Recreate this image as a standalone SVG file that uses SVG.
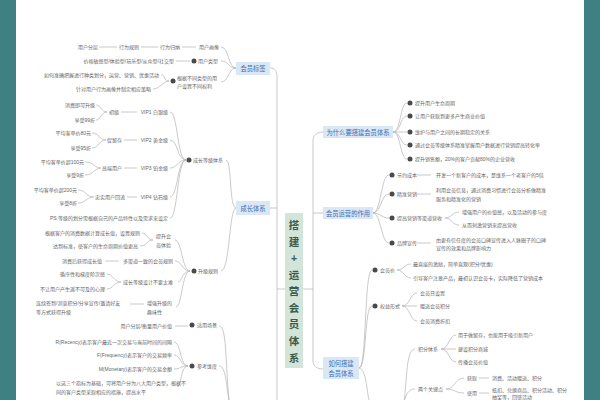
<svg xmlns="http://www.w3.org/2000/svg" width="600" height="400" viewBox="0 0 600 400">
<style>
text{font-family:"Liberation Sans","Noto Sans CJK SC",sans-serif;}
.t{font-size:5px;fill:#666;dominant-baseline:central;}
.e{text-anchor:end;}
.m{font-size:6.3px;fill:#3e6fb0;text-anchor:middle;dominant-baseline:central;}
.box{fill:#dae7f5;}
.ln{fill:none;stroke:#b3b3b3;stroke-width:0.7;}
.dot{fill:#4a4a4a;}
.c{font-size:10.5px;fill:#3d5a4b;text-anchor:middle;font-weight:bold;}
.side{fill:#3f8082;}
</style>
<rect width="600" height="400" fill="#fff"/>
<rect class="side" x="0" y="0" width="16" height="400"/>
<rect class="side" x="584" y="0" width="16" height="400"/>

<g id="connectors">
<path class="ln" d="M270,68 C275,68 277,71 277,77 L277,400"/>
<path class="ln" d="M270,208 L277,208"/>
<path class="ln" d="M277,289 L285,289"/>
<path class="ln" d="M323,132 C317,132 313,135 313,141 L313,361 C313,366 317,369 323,369"/>
<path class="ln" d="M313,213 L323,213"/>
<path class="ln" d="M303,289 L313,289"/>
<path class="ln" d="M236,68 C228,68 229,47 221,47"/>
<path class="ln" d="M236,68 C228,68 229,61 221,61"/>
<path class="ln" d="M236,68 C228,68 229,82 221,82"/>
<path class="ln" d="M99,47 L117,47 M141,47 L158,47 M182,47 L196,47"/>
<path class="ln" d="M176,61 L190,61"/>
<path class="ln" d="M169,81 C163,81 166,75 161,75 M169,81 C163,81 160,89 153,89"/>
<path class="ln" d="M236,208 C229,208 232,160 226,160"/>
<path class="ln" d="M236,208 C229,208 230,271 221,271"/>
<path class="ln" d="M186,160 C177,160 178,112 170,112 M186,160 C177,160 178,140 170,140 M186,160 C177,160 178,168 170,168 M186,160 C177,160 178,197 170,197 M186,160 C177,160 178,218 170,218"/>
<path class="ln" d="M121,112 L137,112 M124,140 L137,140 M124,168 L137,168 M127,197 L137,197"/>
<path class="ln" d="M107,112 C101,112 101,105 96,105 M107,112 C101,112 101,120 96,120"/>
<path class="ln" d="M106,140 C99,140 99,133 92,133 M106,140 C99,140 99,148 92,148"/>
<path class="ln" d="M101,168 C94,168 94,162 85,162 M101,168 C94,168 94,175 85,175"/>
<path class="ln" d="M94,197 C86,197 86,190 78,190 M94,197 C86,197 86,203 78,203"/>
<path class="ln" d="M190,271 C182,271 182,240 175,240 M190,271 C182,271 182,261 175,261 M190,271 C182,271 182,282 178,282 M190,271 C182,271 182,307 176,307"/>
<path class="ln" d="M153,240 C147,240 147,233 142,233 M153,240 C147,240 147,246 140,246"/>
<path class="ln" d="M105,261 L119,261"/>
<path class="ln" d="M121,282 C114,282 113,274 107,274 M121,282 C114,282 113,289 107,289"/>
<path class="ln" d="M130,304 L144,304"/>
<path class="ln" d="M175,326 L188,326"/>
<path class="ln" d="M188,366 C180,366 181,342 174,342 M188,366 C180,366 181,355 174,355 M188,366 C180,366 181,369 174,369 M188,366 C180,366 182,387 177,387"/>
<path class="ln" d="M219,326 C227,326 225,360 229,400 M219,366 C226,366 226,385 229,400"/>
<path class="ln" d="M393,132 C401,132 400,103 407,103 M393,132 C401,132 400,116 407,116 M393,132 L407,132 M393,132 C401,132 400,145 407,145 M393,132 C401,132 400,159 407,159"/>
<path class="ln" d="M373,213 C381,213 381,175 389,175 M373,213 C381,213 381,194 389,194 M373,213 C381,213 381,218 389,218 M373,213 C381,213 381,243 389,243"/>
<path class="ln" d="M417,175 L431,175 M417,194 L431,194 M417,243 L431,243"/>
<path class="ln" d="M445,218 C452,218 452,212 459,212 M445,218 C452,218 452,225 459,225"/>
<path class="ln" d="M359,368 C367,368 364,270 372,270 M359,368 C367,368 364,306 372,306 M359,368 C366,368 367,392 369,400"/>
<path class="ln" d="M397,270 C404,270 404,264 411,264 M397,270 C404,270 404,278 411,278"/>
<path class="ln" d="M402,306 C410,306 410,293 417,293 M402,306 L417,306 M402,306 C410,306 410,321 417,321"/>
<path class="ln" d="M404,402 C407,380 406,349 415,349 M404,402 C406,395 408,389 415,389"/>
<path class="ln" d="M441,349 C449,349 449,335 456,335 M441,349 L456,349 M441,349 C449,349 449,362 456,362"/>
<path class="ln" d="M446,389 C455,389 455,378 464,378 M446,389 C455,389 455,393 464,393"/>
<path class="ln" d="M479,378 L489,378 M479,393 L489,393"/>
</g>

<g id="center">
<rect x="285" y="213" width="18" height="155" fill="#d3e4d9"/>
<text class="c" x="294" y="229">搭</text>
<text class="c" x="294" y="245.6">建</text>
<text class="c" x="294" y="262">+</text>
<text class="c" x="294" y="278.6">运</text>
<text class="c" x="294" y="295.2">营</text>
<text class="c" x="294" y="311.8">会</text>
<text class="c" x="294" y="328.4">员</text>
<text class="c" x="294" y="345">体</text>
<text class="c" x="294" y="361.6">系</text>
</g>

<g id="n-huiyuanbiaoqian">
<rect class="box" x="236" y="62" width="34" height="13"/>
<text class="m" x="253" y="68.5">会员标签</text>
</g>
<g id="n-huaxiang">
<text class="t e" x="219" y="47">用户画像</text>
<text class="t e" x="180" y="47">行为归纳</text>
<text class="t e" x="139" y="47">行为规则</text>
<text class="t e" x="98" y="47">用户分层</text>
</g>
<g id="n-leixing">
<circle class="dot" cx="194" cy="61" r="2.5"/>
<text class="t" x="198" y="61">用户类型</text>
<text class="t e" x="174" y="61">价格敏感型/体验型/玩乐型/从众型/社交型</text>
</g>
<g id="n-genju">
<circle class="dot" cx="173" cy="81" r="2.5"/>
<text class="t" x="177" y="77.5">根据不同类型的用</text>
<text class="t" x="177" y="85.5">户设置不同权利</text>
<text class="t e" x="159" y="75">如何准确把握进行种类划分，运营、营销、优惠活动</text>
<text class="t e" x="151" y="89">针对用户行为画像并制定相应策略</text>
</g>

<g id="n-chengzhangtixi">
<rect class="box" x="236" y="201" width="34" height="14"/>
<text class="m" x="253" y="208">成长体系</text>
</g>
<g id="n-dengji">
<circle class="dot" cx="189" cy="160" r="2.5"/>
<text class="t" x="193" y="160">成长等级体系</text>
</g>
<g id="n-vip1">
<text class="t e" x="168" y="112">VIP1 白银级</text>
<text class="t e" x="119" y="112">初级</text>
<text class="t e" x="95" y="105">消费即可升级</text>
<text class="t e" x="95" y="120">享受99折</text>
</g>
<g id="n-vip2">
<text class="t e" x="168" y="140">VIP2 黄金级</text>
<text class="t e" x="122" y="140">促留存</text>
<text class="t e" x="91" y="133">平均客单价80元</text>
<text class="t e" x="91" y="148">享受95折</text>
</g>
<g id="n-vip3">
<text class="t e" x="168" y="168">VIP3 铂金级</text>
<text class="t e" x="122" y="168">高端用户</text>
<text class="t e" x="84" y="162">平均客单价超100元</text>
<text class="t e" x="84" y="175">享受9折</text>
</g>
<g id="n-vip4">
<text class="t e" x="168" y="197">VIP4 钻石级</text>
<text class="t e" x="125" y="197">忠实用户回流</text>
<text class="t e" x="77" y="190">平均客单价超200元</text>
<text class="t e" x="77" y="203">享受8折</text>
</g>
<g id="n-ps">
<text class="t e" x="168" y="218">PS:等级的划分需根据自己的产品特性以及需求来设定</text>
</g>

<g id="n-shengji">
<circle class="dot" cx="194" cy="271" r="2.5"/>
<text class="t" x="198" y="271">升级规则</text>
</g>
<g id="n-tisheng">
<text class="t" x="156" y="235.5">提升会</text>
<text class="t" x="156" y="244.5">员体验</text>
<text class="t e" x="140" y="233">根据客户的消费数据计算成长值，设置规则</text>
<text class="t e" x="138" y="246">达到标准，使客户的生命周期价值更高</text>
</g>
<g id="n-duoqudao">
<text class="t" x="123" y="261">多渠道一致的会员规则</text>
<text class="t e" x="102" y="261">消费后获得成长值</text>
</g>
<g id="n-nandu">
<text class="t" x="123" y="282">成长等级设计不要太难</text>
<text class="t e" x="105" y="274">循序性和梯度阶次感</text>
<text class="t e" x="105" y="289">不让用户产生遥不可及的心理</text>
</g>
<g id="n-quwei">
<text class="t" x="147" y="303">增强升级的</text>
<text class="t" x="147" y="312">趣味性</text>
<text class="t" x="36" y="303">连续签到/浏览积分/分享宣传/邀请好友</text>
<text class="t" x="36" y="312">等方式获得升级</text>
</g>

<g id="n-changjing">
<circle class="dot" cx="192" cy="325" r="2.5"/>
<text class="t" x="197" y="325">适用场景</text>
<text class="t e" x="172" y="326">用户分层/衡量用户价值</text>
</g>
<g id="n-weidu">
<circle class="dot" cx="192" cy="366" r="2.5"/>
<text class="t" x="197" y="366">参考维度</text>
<text class="t e" x="172" y="342">R(Recency)表示客户最近一次交易与当前时间的间隔</text>
<text class="t e" x="172" y="355">F(Frequency)表示客户的交易频率</text>
<text class="t e" x="172" y="369">M(Monetary)表示客户的交易金额</text>
<text class="t" x="56" y="383">以这三个指标为基础，可将用户分为八大用户类型，根据不</text>
<text class="t" x="56" y="392">同的客户类型采取相应的措施，提高水平</text>
</g>

<g id="n-weishenme">
<rect class="box" x="323" y="126" width="70" height="12"/>
<text class="m" x="358" y="132">为什么要搭建会员体系</text>
</g>
<g id="n-why-items">
<circle class="dot" cx="410" cy="103" r="2.5"/>
<text class="t" x="415" y="103">提升用户生命周期</text>
<circle class="dot" cx="410" cy="116" r="2.5"/>
<text class="t" x="415" y="116">让用户获取到更多产生商业价值</text>
<circle class="dot" cx="410" cy="132" r="2.5"/>
<text class="t" x="415" y="132">维护与用户之间的长期稳定的关系</text>
<circle class="dot" cx="410" cy="145" r="2.5"/>
<text class="t" x="415" y="145">通过会员等级体系精准掌握用户数据进行营销提高转化率</text>
<circle class="dot" cx="410" cy="159" r="2.5"/>
<text class="t" x="415" y="159">提升销售额，20%的客户贡献80%的企业营收</text>
</g>

<g id="n-zuoyong">
<rect class="box" x="323" y="207" width="50" height="12"/>
<text class="m" x="348" y="213">会员运营的作用</text>
</g>
<g id="n-chengben">
<circle class="dot" cx="392" cy="175" r="2.5"/>
<text class="t" x="397" y="175">节约成本</text>
<text class="t" x="436" y="175">开发一个新客户的成本，是维系一个老客户的5倍</text>
</g>
<g id="n-jingzhun">
<circle class="dot" cx="392" cy="194" r="2.5"/>
<text class="t" x="397" y="194">精准营销</text>
<text class="t" x="436" y="189.5">利用会员信息，通过消费习惯进行会员分析做精准</text>
<text class="t" x="436" y="198.5">服务和精准化的营销</text>
</g>
<g id="n-yingshou">
<circle class="dot" cx="392" cy="218" r="2.5"/>
<text class="t" x="397" y="218">提高营销等渠道营收</text>
<text class="t" x="462" y="212">增强用户的价值感，以及活动的参与度</text>
<text class="t" x="462" y="225">从而刺激营销来提高营收</text>
</g>
<g id="n-pinpai">
<circle class="dot" cx="392" cy="243" r="2.5"/>
<text class="t" x="397" y="243">品牌宣传</text>
<text class="t" x="436" y="239.5">由更有信任度的会员口碑宣传进入人脉圈子的口碑</text>
<text class="t" x="436" y="248">宣传的效果和品牌影响力</text>
</g>

<g id="n-ruhe">
<rect class="box" x="323" y="357" width="36" height="22"/>
<text class="m" x="341" y="363">如何搭建</text>
<text class="m" x="341" y="373.5">会员体系</text>
</g>
<g id="n-huiyuanjia">
<circle class="dot" cx="375" cy="270" r="2.5"/>
<text class="t" x="380" y="270">会员价</text>
<text class="t" x="413" y="264">最直接的激励，简单直观(积分/优惠)</text>
<text class="t" x="413" y="278">引导客户注意产品，最初认识会员卡，实际降低了营销成本</text>
</g>
<g id="n-quanyi">
<circle class="dot" cx="375" cy="306" r="2.5"/>
<text class="t" x="380" y="306">权益形式</text>
<text class="t" x="420" y="293">会员日设置</text>
<text class="t" x="420" y="306">赠送会员积分</text>
<text class="t" x="420" y="321">会员消费折扣</text>
</g>
<g id="n-jifen">
<text class="t" x="418" y="349">积分体系</text>
<text class="t" x="458" y="335">用于做留存，也能用于吸引新用户</text>
<text class="t" x="458" y="349">建设积分商城</text>
<text class="t" x="458" y="362">传播会员价值</text>
</g>
<g id="n-guanjian">
<text class="t" x="418" y="389">两个关键点</text>
<text class="t" x="467" y="378">获取</text>
<text class="t" x="492" y="378">消费、活动赠送、积分</text>
<text class="t" x="467" y="393">使用</text>
<text class="t" x="492" y="389.5">抵扣、兑换商品、积分活动、积分</text>
<text class="t" x="492" y="396.5">抽奖等，回馈活动</text>
</g>
</svg>
